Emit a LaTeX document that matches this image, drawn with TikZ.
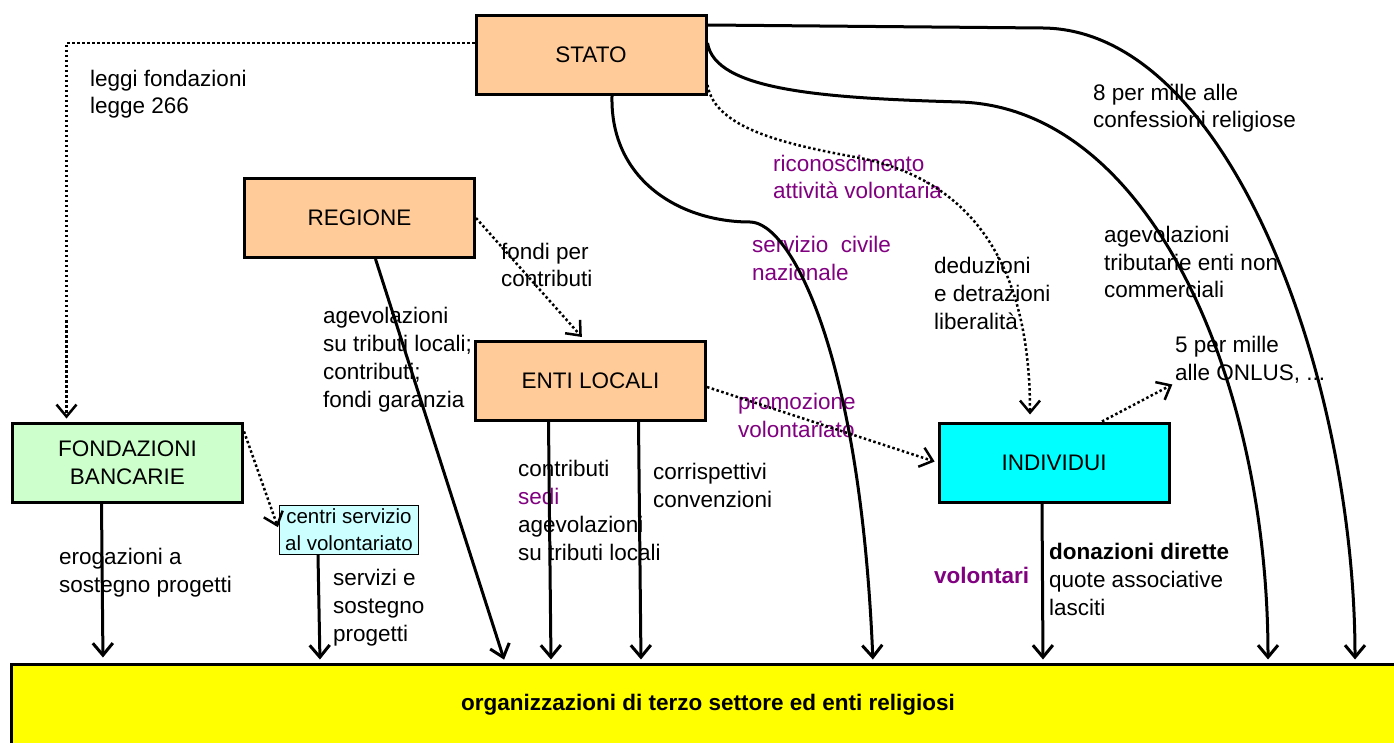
\documentclass[tikz,border=0pt]{standalone}
\usepackage{fontspec}
\setmainfont{Liberation Sans}
\usetikzlibrary{arrows.meta}

\begin{document}
\begin{tikzpicture}[x=1pt, y=-1pt,
	font=\fontsize{22.5}{27.8}\selectfont,
	box/.style = {draw, line width=3pt, minimum width=230pt, minimum height=79pt, align=center, inner sep=0pt},
	flow/.style = {line width=3pt, shorten >=3pt, -{Straight Barb[length=12pt,width=20pt]}},
	dotflow/.style = {flow, line width=2.5pt, dash pattern=on 2.5pt off 2.5pt},
	lbl/.style = {anchor=base west, align=left, inner sep=0pt}]
	\definecolor{boxorange}{HTML}{FFCC99}
	\definecolor{boxgreen}{HTML}{CCFFCC}
	\definecolor{boxcyan}{HTML}{00FFFF}
	\definecolor{boxlightcyan}{HTML}{CCFFFF}
	\definecolor{orgyellow}{HTML}{FFFF00}
	\definecolor{vpurple}{HTML}{800080}
	\useasboundingbox (0,0) rectangle (1394,743);
	% boxes
	\node[box, fill=boxorange] (stato) at (591,55) {STATO};
	\node[box, fill=boxorange] (regione) at (359.5,218) {REGIONE};
	\node[box, fill=boxorange] (enti) at (590.5,381) {ENTI LOCALI};
	\node[box, fill=boxgreen] (fond) at (127.5,462.5) {FONDAZIONI\\BANCARIE};
	\node[box, fill=boxcyan] (indiv) at (1054,462.5) {INDIVIDUI};
	\node[draw, line width=1.2pt, fill=boxlightcyan, minimum width=139pt, minimum height=49pt,
		inner sep=0pt, align=center, font=\fontsize{20.5}{27}\selectfont] (csv) at (349,530) {centri servizio\\al volontariato};
	\node[box, fill=orgyellow, minimum width=1394pt, minimum height=82pt,
		font=\bfseries\fontsize{22.5}{27.8}\selectfont] (org) at (708,705) {organizzazioni di terzo settore ed enti religiosi};
	% labels (placed at the baseline of their last line)
	\node[lbl] (leggi) at (90,114) {leggi fondazioni\\legge 266};
	\node[lbl] (ottomille) at (1093,128) {8 per mille alle\\confessioni religiose};
	\node[lbl] (agetrib) at (1104,298) {agevolazioni\\tributarie enti non\\commerciali};
	\node[lbl, text=vpurple] (ricon) at (773,199) {riconoscimento\\attività volontaria};
	\node[lbl] (dedu) at (934,329) {deduzioni\\e detrazioni\\liberalità};
	\node[lbl, text=vpurple] (servciv) at (752,280) {servizio\ \ civile\\nazionale};
	\node[lbl] (fondi) at (501,287) {fondi per\\contributi};
	\node[lbl] (agereg) at (323,407) {agevolazioni\\su tributi locali;\\contributi;\\fondi garanzia};
	\node[lbl] (contr) at (518,560) {contributi\\\textcolor{vpurple}{sedi}\\agevolazioni\\su tributi locali};
	\node[lbl] (corr) at (653,507) {corrispettivi\\convenzioni};
	\node[lbl, text=vpurple] (promo) at (738,437) {promozione\\volontariato};
	\node[lbl] (erog) at (59,592) {erogazioni a\\sostegno progetti};
	\node[lbl] (servsost) at (333,641) {servizi e\\sostegno\\progetti};
	\node[lbl] (donaz) at (1049,615) {\textbf{donazioni dirette}\\quote associative\\lasciti};
	\node[lbl, text=vpurple, font=\bfseries\fontsize{22.5}{27.8}\selectfont] (volont) at (934,583) {volontari};
	\node[lbl] (cinque) at (1175,380) {5 per mille\\alle ONLUS, ...};
	% flows from STATO
	\draw[dotflow] ([yshift=12pt]stato.west) -| ([xshift=-61pt]fond.north);
	\draw[flow] ([yshift=-11pt]stato.north east) -- (1043,28) .. controls (1230,30) and (1355,380) .. ([xshift=647pt]org.north);
	\draw[flow] ([yshift=12pt]stato.east) .. controls (715,90) and (820,98) .. (960,102) .. controls (1150,108) and (1268,380) .. ([xshift=560pt]org.north);
	\draw[dotflow, shorten >=7pt] ([yshift=11pt]stato.south east) .. controls (715,130) and (790,145) .. (860,158) .. controls (960,178) and (1030,250) .. ([xshift=-24pt]indiv.north);
	\draw[flow] ([xshift=21pt]stato.south) .. controls (610,180) and (680,222) .. (750,222) .. controls (790,222) and (860,350) .. ([xshift=165pt]org.north);
	% flows from REGIONE and ENTI LOCALI
	\draw[dotflow, shorten >=4pt] (regione.east) -- ([xshift=-6pt]enti.north);
	\draw[flow] ([xshift=16pt]regione.south) -- ([xshift=-203pt]org.north);
	\draw[flow] ([xshift=-42pt]enti.south) -- ([xshift=-157pt]org.north);
	\draw[flow] ([xshift=48pt]enti.south) -- ([xshift=-67pt]org.north);
	\draw[dotflow] ([yshift=-6pt]enti.east) -- (indiv.west);
	% flows from FONDAZIONI and INDIVIDUI
	\draw[flow, shorten >=5pt] ([xshift=-26pt]fond.south) -- ([xshift=-605pt]org.north);
	\draw[dotflow] ([yshift=-10pt]fond.north east) -- (csv.west);
	\draw[flow] ([xshift=-31pt]csv.south) -- ([xshift=-388pt]org.north);
	\draw[flow] ([xshift=-12pt]indiv.south) -- ([xshift=335pt]org.north);
	\draw[dotflow] ([xshift=48pt]indiv.north) -- (cinque.south west);
\end{tikzpicture}
\end{document}
